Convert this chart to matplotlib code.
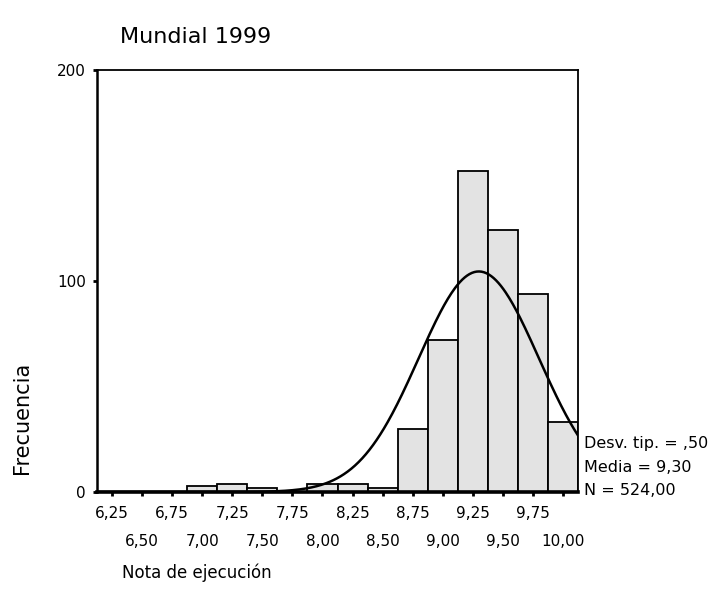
import numpy as np
import matplotlib
matplotlib.use('Agg')
import matplotlib.pyplot as plt

# Histogram counts (bin width 0,25)
bin_centres = [6.25, 6.50, 6.75, 7.00, 7.25, 7.50, 7.75, 8.00,
               8.25, 8.50, 8.75, 9.00, 9.25, 9.50, 9.75, 10.00]
counts = [0, 0, 0, 3, 4, 2, 0, 4, 4, 2, 30, 72, 152, 124, 94, 33]
bin_width = 0.25

# Summary shown next to the plot
media = 9.30
desv = 0.50
n_total = 524

top_ticks = [6.25, 6.75, 7.25, 7.75, 8.25, 8.75, 9.25, 9.75]
bottom_ticks = [6.50, 7.00, 7.50, 8.00, 8.50, 9.00, 9.50, 10.00]
y_ticks = [0, 100, 200]

def fmt(v):
    return ('%.2f' % v).replace('.', ',')

plt.rcParams['font.family'] = ['DejaVu Sans']

fig = plt.figure(figsize=(7.10, 6.08), dpi=100)
ax = fig.add_axes([97/710, 1-492/608, 481/710, 422/608])

ax.bar(bin_centres, counts, width=bin_width, color='#e3e3e3',
       edgecolor='black', linewidth=1.3, zorder=2)

# normal curve for the shown mean / sd / N
xs = np.linspace(6.125, 10.125, 400)
ys = n_total*bin_width/(desv*np.sqrt(2*np.pi))*np.exp(-0.5*((xs-media)/desv)**2)
ax.plot(xs, ys, color='black', linewidth=1.8, zorder=3)

ax.set_xlim(6.125, 10.125)
ax.set_ylim(0, 200)

ax.set_xticks(top_ticks)
ax.set_xticklabels([fmt(v) for v in top_ticks])
ax.set_xticks(bottom_ticks, minor=True)
ax.set_xticklabels([fmt(v) for v in bottom_ticks], minor=True)
ax.tick_params(axis='x', which='major', length=3, width=2, pad=7, labelsize=11)
ax.tick_params(axis='x', which='minor', length=3, width=2, pad=27, labelsize=11)
ax.set_yticks(y_ticks)
ax.tick_params(axis='y', length=3, width=2, pad=5, labelsize=11)

for side in ['top', 'right']:
    ax.spines[side].set_linewidth(1.3)
ax.spines['left'].set_linewidth(1.8)
ax.spines['bottom'].set_linewidth(2.6)

stats = ['Desv. tip. = ,' + ('%.2f' % desv).split('.')[1],
         'Media = ' + fmt(media),
         'N = ' + fmt(n_total)]
for txt, yf in zip(stats, [0.116, 0.057, 0.003]):
    ax.text(1.013, yf, txt, transform=ax.transAxes, fontsize=11.5,
            va='center', ha='left')

fig.text(120/710, 1-37/608, 'Mundial 1999', fontsize=16, va='center', ha='left')
fig.text(122/710, 1-573/608, 'Nota de ejecución', fontsize=12, va='center', ha='left')
fig.text(22/710, 1-418/608, 'Frecuencia', fontsize=15, rotation=90,
         va='center', ha='center')

fig.savefig('out.png', dpi=100)
